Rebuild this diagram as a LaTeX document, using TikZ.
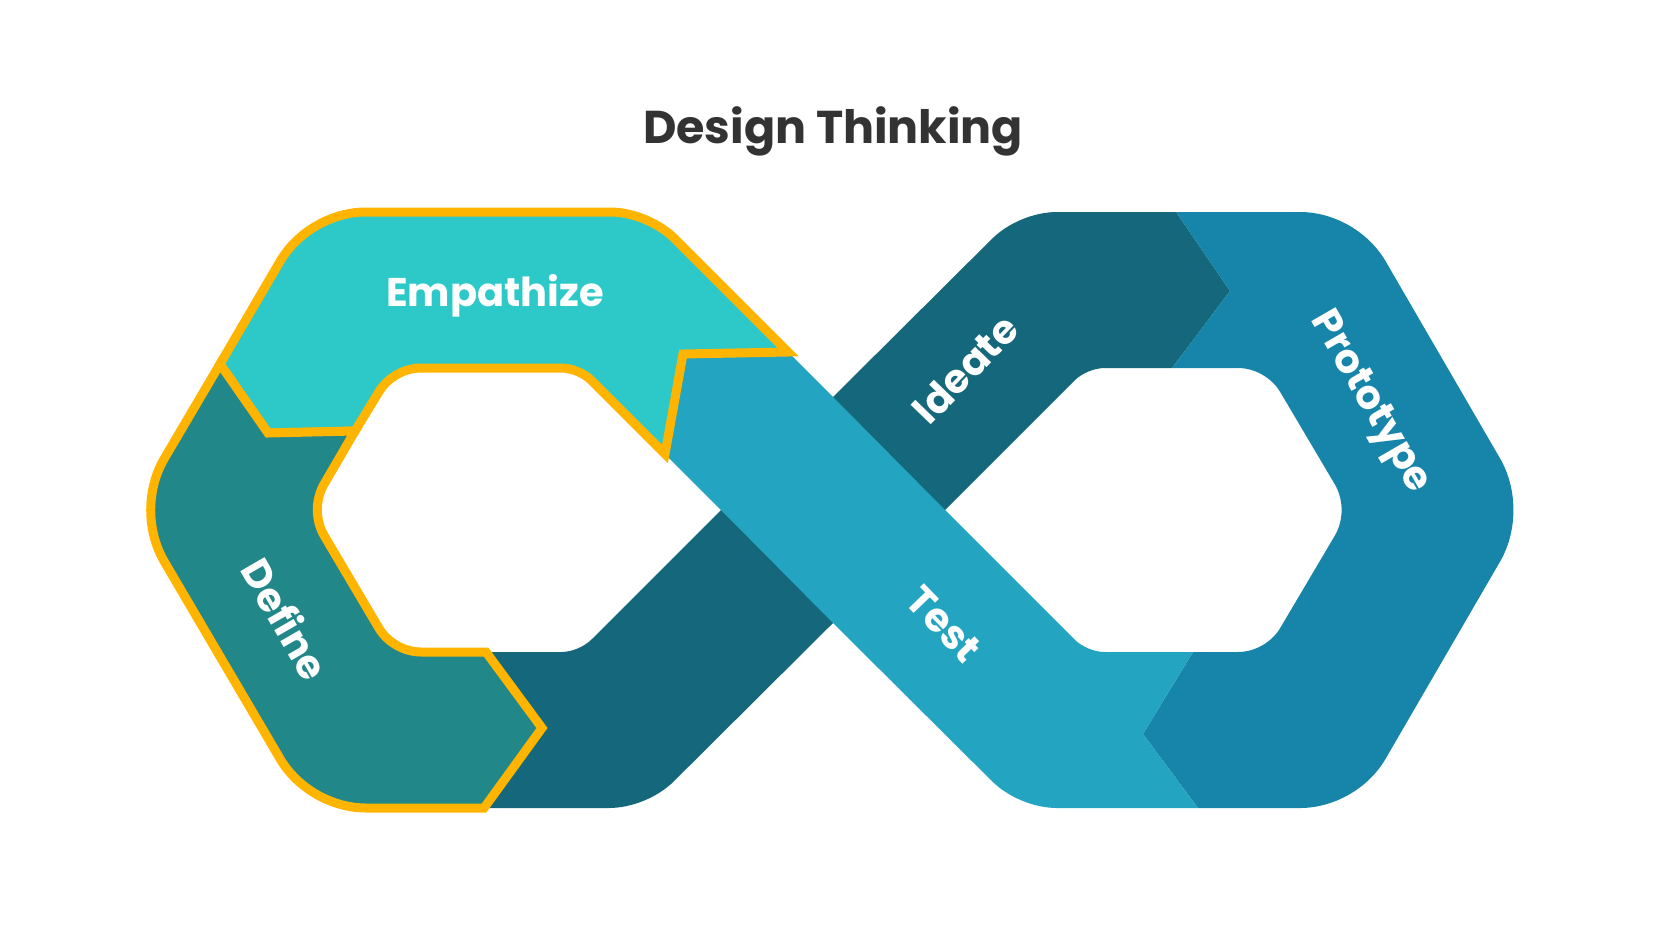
\documentclass[tikz,border=0pt]{standalone}
\usepackage{fontspec}
\setmainfont{Poppins}
\usetikzlibrary{calc}

\definecolor{empcol}{HTML}{2CC9C8}
\definecolor{defcol}{HTML}{218789}
\definecolor{ideacol}{HTML}{15677B}
\definecolor{protcol}{HTML}{1685A9}
\definecolor{testcol}{HTML}{23A5C1}
\definecolor{ringline}{HTML}{FFB400}
\definecolor{titlecol}{HTML}{333333}

% rounded corner at #2, coming from #1 and leaving to #3, cut back by #4
\newcommand\roundat[4]{-- ($(#2)!#4!(#1)$) .. controls ($(#2)!0.4*#4!(#1)$) and ($(#2)!0.4*#4!(#3)$) .. ($(#2)!#4!(#3)$)}

\begin{document}
\begin{tikzpicture}[x=1pt,y=-1pt,
  phase/.style={text=white,font=\bfseries\fontsize{40}{48}\selectfont},
  ring/.style={draw=ringline,line width=9pt}]
\useasboundingbox (0,0) rectangle (1667,938);

% Corner points of the two loops and the crossing
\foreach \n/\x/\y in {oTL1/309/212, oTR1/648/212, oBR1/647/808, oBL1/309/808, oL1/134/510,
  iTL1/393/368, iTR1/579/368, iBR1/579/652, iBL1/393/652, iL1/309/510,
  xL/721/510, xT/833/397, xR/945/510, xB/833/623,
  oTL2/1019/212, oTR2/1357/212, oR2/1530/510, oBR2/1357/808, oBL2/1019/808,
  iTL2/1087/368, iTR2/1266/368, iR2/1350/510, iBR2/1266/652, iBL2/1087/652}
  \coordinate (\n) at (\x,\y);

% Points where one phase meets the next
\foreach \n/\x/\y in {A1/220/364, A2/268/433, A3/355/431,
  E1/788/352, E2/683/354, E3/665/454,
  D1/484/808, D2/542/728, D3/486/652,
  I1/1176/212, I2/1230/291, I3/1172/368,
  P1/1198/808, P2/1143/734, P3/1193/652}
  \coordinate (\n) at (\x,\y);

% Ideate: runs under the crossing
\fill[ideacol] (D3) \roundat{D3}{iBR1}{xL}{18pt} -- (xL) -- (xT)
  \roundat{xT}{oTL2}{I1}{38pt} -- (I1) -- (I2) -- (I3)
  \roundat{I3}{iTL2}{xR}{18pt} -- (xR) -- (xB)
  \roundat{xB}{oBR1}{D1}{38pt} -- (D1) -- (D2) -- cycle;

% Prototype
\fill[protcol] (I1) \roundat{I1}{oTR2}{oR2}{57pt} \roundat{oTR2}{oR2}{oBR2}{60pt}
  \roundat{oR2}{oBR2}{P1}{57pt} -- (P1) -- (P2) -- (P3)
  \roundat{P3}{iBR2}{iR2}{28pt} \roundat{iBR2}{iR2}{iTR2}{30pt}
  \roundat{iR2}{iTR2}{I3}{28pt} -- (I3) -- (I2) -- cycle;

% Test: over the crossing
\fill[testcol] (P1) -- (P2) -- (P3) \roundat{P3}{iBL2}{xR}{18pt}
  -- (xR) -- (xT) -- (E1) -- (E2) -- (E3) -- (xL) -- (xB)
  \roundat{xB}{oBL2}{P1}{38pt} -- cycle;

% Empathize
\path[fill=empcol,ring] (A1) \roundat{A1}{oTL1}{oTR1}{57pt} \roundat{oTL1}{oTR1}{xT}{38pt}
  -- (E1) -- (E2) -- (E3) \roundat{E3}{iTR1}{iTL1}{18pt}
  \roundat{iTR1}{iTL1}{iL1}{28pt} -- (A3) -- (A2) -- cycle;

% Define
\path[fill=defcol,ring] (A1) -- (A2) -- (A3) \roundat{A3}{iL1}{iBL1}{30pt}
  \roundat{iL1}{iBL1}{D3}{28pt} -- (D3) -- (D2) -- (D1)
  \roundat{D1}{oBL1}{oL1}{57pt} \roundat{oBL1}{oL1}{A1}{60pt} -- cycle;

% Title
\node[text=titlecol,font=\bfseries\fontsize{46}{56}\selectfont] (title) at (833,131) {Design Thinking};

% Phase names
\foreach \n/\x/\y/\a/\t in {emp/495/296/0/Empathize, def/286/619/-60/Define,
  idea/965/369/46/Ideate, proto/1369/403/-60/Prototype, test/944/624/-46/Test}
  \node[phase,rotate=\a] (\n) at (\x,\y) {\t};
\end{tikzpicture}
\end{document}
